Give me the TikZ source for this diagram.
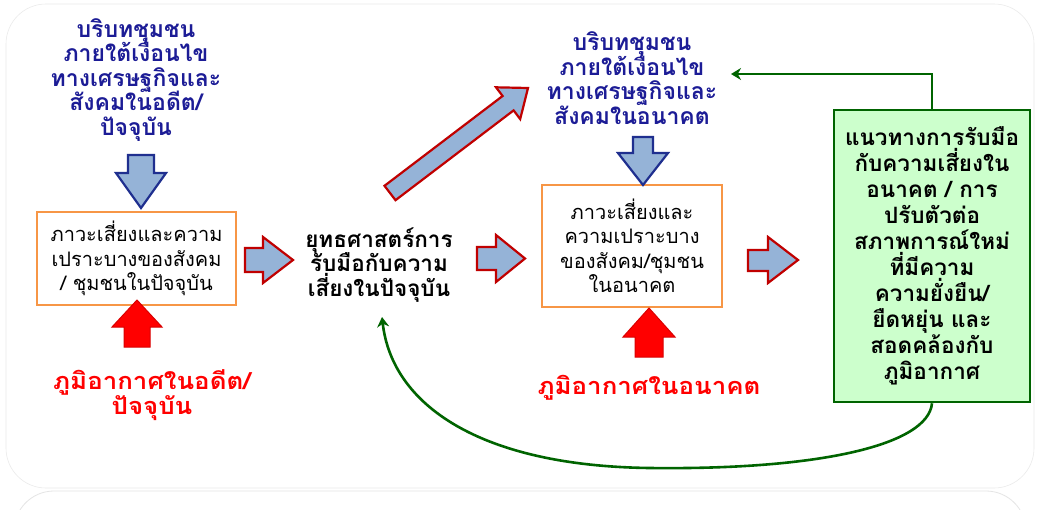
\documentclass[tikz,border=0pt]{standalone}
\usepackage{fontspec}
\usetikzlibrary{arrows.meta}
\newfontfamily\thai[Script=Thai]{Loma}
\newfontfamily\thaiwide[Script=Thai,FakeStretch=1.1]{Loma}
\newcommand\tightls{\lineskiplimit-50pt\relax\lineskip0pt\relax}
\definecolor{navytxt}{HTML}{1C1C96}
\definecolor{arrowblue}{HTML}{95B3D7}
\definecolor{arrowedge}{HTML}{1F2F8F}
\definecolor{darkred}{HTML}{C00000}
\definecolor{boxorange}{HTML}{F79646}
\definecolor{gfill}{HTML}{CCFFCC}
\definecolor{gline}{HTML}{006400}
\begin{document}
\begin{tikzpicture}[x=1pt,y=-1pt,
  ctxtext/.style={font=\thai\bfseries\fontsize{23}{24.5}\selectfont\tightls, text=navytxt, align=center, inner sep=0pt},
  boxtext/.style={font=\thai\fontsize{20}{24.5}\selectfont\tightls, align=center, draw=boxorange, line width=2.5pt, fill=white},
  redtext/.style={font=\thaiwide\bfseries\fontsize{23.5}{24.5}\selectfont\tightls, text=red, align=center, inner sep=0pt},
  stratext/.style={font=\thai\bfseries\fontsize{22.5}{24.5}\selectfont\tightls, align=center, inner sep=0pt},
  downarrow/.style={fill=arrowblue, draw=arrowedge, line width=2.2pt, line join=miter},
  rightarrow/.style={fill=arrowblue, draw=darkred, line width=2.2pt, line join=miter},
  uparrow/.style={fill=red, draw=red!85!black, line width=1pt, line join=miter},
  glink/.style={draw=gline, line width=2.6pt, -{Stealth[length=10pt,width=12pt]}},
  gboxst/.style={font=\thai\bfseries\fontsize{22.5}{26}\selectfont\tightls, align=center, draw=gline, line width=2.6pt, fill=gfill, minimum width=196pt, minimum height=292pt, inner sep=0pt}
]
\useasboundingbox (0,0) rectangle (1040,509);
\fill[white] (0,0) rectangle (1040,509);
% faint background panels
\draw[black!8, line width=0.6pt, rounded corners=40pt] (6,4) rectangle (1034,488);
\draw[black!10, line width=0.8pt, rounded corners=40pt] (14,530) -- (14,491) -- (1026,491) -- (1026,530);

% left column
\node[ctxtext] (ctxL) at (136,80) {บริบทชุมชน\\ภายใต้เงื่อนไข\\ทางเศรษฐกิจและ\\สังคมในอดีต/\\ปัจจุบัน};
\node[boxtext, minimum width=199pt, minimum height=93pt, inner sep=0pt] (boxL) at (136.5,258.5) {ภาวะเสี่ยงและความ\\เปราะบางของสังคม\\/ ชุมชนในปัจจุบัน};
\node[redtext] (climL) at (152,395) {ภูมิอากาศในอดีต/\\ปัจจุบัน};
\draw[downarrow] (128,155) -- (154,155) -- (154,173) -- (166,173) -- (141,208) -- (116,173) -- (128,173) -- cycle;
\draw[uparrow] (124,347) -- (150,347) -- (150,327) -- (162,327) -- (137,300) -- (112,327) -- (124,327) -- cycle;

% middle strategy
\node[stratext] (strat) at (379,265) {ยุทธศาสตร์การ\\รับมือกับความ\\เสี่ยงในปัจจุบัน};
\draw[rightarrow] (245,248) -- (263,248) -- (263,237) -- (293,260) -- (263,283) -- (263,272) -- (245,272) -- cycle;
\draw[rightarrow] (384.5,185.8) -- (502.6,96.0) -- (496.0,87.3) -- (528,88) -- (520.2,119.1) -- (513.6,110.4) -- (395.5,200.2) -- cycle;
\draw[rightarrow] (477,247) -- (496,247) -- (496,235) -- (525,258.5) -- (496,282) -- (496,270) -- (477,270) -- cycle;

% right-middle column
\node[ctxtext] (ctxR) at (632,78) {บริบทชุมชน\\ภายใต้เงื่อนไข\\ทางเศรษฐกิจและ\\สังคมในอนาคต};
\node[boxtext, minimum width=180pt, minimum height=122pt, inner sep=0pt] (boxR) at (632,246) {ภาวะเสี่ยงและ\\ความเปราะบาง\\ของสังคม/ชุมชน\\ในอนาคต};
\node[redtext] (climR) at (649,388) {ภูมิอากาศในอนาคต};
\draw[downarrow] (633,137) -- (653,137) -- (653,153) -- (668,153) -- (643,185) -- (618,153) -- (633,153) -- cycle;
\draw[uparrow] (635,357) -- (663,357) -- (663,337) -- (675,337) -- (649,308) -- (623,337) -- (635,337) -- cycle;
\draw[rightarrow] (748,250) -- (768,250) -- (768,237) -- (798,260) -- (768,283) -- (768,271) -- (748,271) -- cycle;

% green box
\node[gboxst] (gbox) at (932,256) {แนวทางการรับมือ\\กับความเสี่ยงใน\\อนาคต / การ\\ปรับตัวต่อ\\สภาพการณ์ใหม่\\ที่มีความ\\ความยั่งยืน/\\ยืดหยุ่น และ\\สอดคล้องกับ\\ภูมิอากาศ};

% green connectors
\coordinate (gtipA) at (731,74);
\coordinate (gtipB) at (382,317);
\draw[glink] (gbox.north) |- (gtipA);
\draw[glink] (gbox.south) .. controls (928,445) and (820,470) .. (650,468) .. controls (480,466) and (392,405) .. (gtipB);
\end{tikzpicture}
\end{document}
